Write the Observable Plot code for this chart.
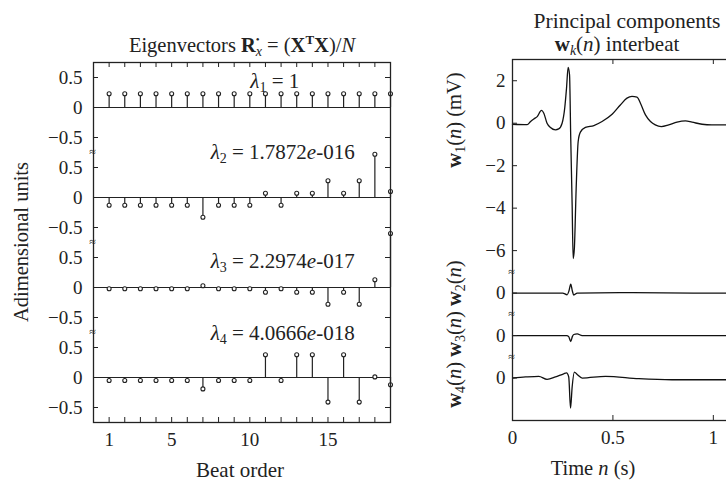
<!DOCTYPE html>
<html><head><meta charset="utf-8">
<script src="https://cdn.jsdelivr.net/npm/d3@7"></script>
<script src="https://cdn.jsdelivr.net/npm/@observablehq/plot@0.6"></script>
<style>
html,body{margin:0;padding:0;background:#fff;overflow:hidden}
#wrap{position:relative;width:726px;height:483px;overflow:hidden;background:#fff}
#wrap > svg{position:absolute;top:0}
</style></head><body><div id="wrap"></div>
<script>
// ---------- data ----------
const beats = [1,2,3,4,5,6,7,8,9,10,11,12,13,14,15,16,17,18,19];
const beatTickLabels = [1, 5, 10, 15];
const eig1 = [0.23,0.23,0.23,0.23,0.23,0.23,0.23,0.23,0.23,0.23,0.23,0.23,0.23,0.23,0.23,0.23,0.23,0.23,0.23];
const eig2 = [-0.13,-0.13,-0.13,-0.13,-0.13,-0.13,-0.33,-0.13,-0.13,-0.13,0.07,-0.13,0.07,0.07,0.28,0.07,0.28,0.72,0.10];
const eig3 = [-0.02,-0.02,-0.02,-0.02,-0.02,-0.02,0.03,-0.02,-0.02,-0.02,-0.08,-0.02,-0.08,-0.08,-0.28,-0.08,-0.28,0.13,0.90];
const eig4 = [-0.05,-0.05,-0.05,-0.05,-0.05,-0.05,-0.19,-0.05,-0.05,-0.05,0.38,-0.05,0.38,0.38,-0.41,0.38,-0.41,0.01,-0.12];
const lambdaValues = ["1", "1.7872e-016", "2.2974e-017", "4.0666e-018"];
const eigTicks = [0.5, 0, -0.5];
const eigTickLabels = ["0.5", "0", "\u22120.5"];

const timeTicks = [0, 0.5, 1];
const timeTickLabels = ["0", "0.5", "1"];
const w1Ticks = [2, 0, -2, -4, -6];
const w1TickLabels = ["2", "0", "\u22122", "\u22124", "\u22126"];
const wOtherTickLabels = ["0"];
// [time (s), amplitude]
const w1 = [[0,-0.05],[0.073,-0.07],[0.09,0.08],[0.106,0.2],[0.123,0.31],[0.144,0.6],[0.156,0.47],[0.172,0.0],[0.189,-0.2],[0.214,-0.31],[0.23,-0.27],[0.247,0.0],[0.26,0.71],[0.269,1.65],[0.277,2.63],[0.284,2.28],[0.29,-0.71],[0.297,-3.85],[0.302,-6.37],[0.308,-5.9],[0.317,-3.07],[0.327,-0.86],[0.338,-0.42],[0.363,-0.2],[0.405,-0.11],[0.446,0.08],[0.496,0.42],[0.537,0.86],[0.57,1.18],[0.595,1.26],[0.62,1.23],[0.637,0.94],[0.662,0.39],[0.687,0.08],[0.711,-0.08],[0.741,-0.16],[0.778,-0.08],[0.819,0.05],[0.861,0.11],[0.894,0.05],[0.944,-0.05],[0.993,-0.08],[1.2,-0.08]];
const w2 = [[0,0],[0.25,0.0],[0.272,-0.08],[0.281,0.1],[0.29,0.42],[0.298,0.1],[0.305,-0.09],[0.322,0],[0.6,0.02],[0.9,0],[1.2,0]];
const w3 = [[0,0],[0.27,0],[0.28,-0.05],[0.29,-0.28],[0.298,-0.05],[0.305,0.05],[0.322,0.08],[0.347,0],[1.2,0]];
const w4 = [[0,0],[0.065,0.05],[0.131,0.08],[0.172,-0.06],[0.214,0.05],[0.255,0.2],[0.269,0.24],[0.28,0.05],[0.289,-1.42],[0.297,-0.42],[0.308,0.28],[0.322,0.17],[0.347,0],[0.463,0.08],[0.629,-0.03],[0.794,-0.08],[1.2,-0.08]];

// ---------- layout ----------
const F = "'Liberation Serif', 'Times New Roman', serif";
const INK = "#222";
const TK = 5;
const wrap = document.getElementById("wrap");

// Left: stacked stem plots
const step = 1.5;
const eigs = [eig1, eig2, eig3, eig4];
const stems = eigs.flatMap((vals, k) => vals.map((v, i) => ({beat: beats[i], base: -step * k, top: -step * k + v})));
const zeroLines = eigs.map((_, k) => -step * k);
const yTickPos = [], yTickLab = [];
eigs.forEach((_, k) => eigTicks.forEach((t, j) => { yTickPos.push(t - step * k); yTickLab.push(eigTickLabels[j]); }));
const yFmt = new Map(yTickPos.map((p, i) => [p.toFixed(3), yTickLab[i]]));
const breaksL = [1, 2, 3].map(k => step / 2 - step * k);

const LW = 420, LH = 483, LmL = 93, LmR = 30, LmT = 62, LmB = 61;
const LfW = LW - LmL - LmR, LfH = LH - LmT - LmB;
const lamX = [11.6, 12.1, 12.1, 12.1];
const lamDy = [0.43, 0.75, 0.43, 0.74];

const left = Plot.plot({
  width: LW, height: LH, marginLeft: LmL, marginRight: LmR, marginTop: LmT, marginBottom: LmB,
  style: {fontFamily: F, fontSize: "19px", color: INK, background: "transparent"},
  x: {domain: [0, 19], axis: null},
  y: {domain: [-step * 3 - 0.75, 0.75], axis: null},
  marks: [
    Plot.ruleY(zeroLines, {y: d => d, stroke: INK, strokeWidth: 1.2}),
    Plot.ruleX(stems, {x: "beat", y1: "base", y2: "top", stroke: INK, strokeWidth: 1.2}),
    Plot.dot(stems, {x: "beat", y: "top", r: 2, stroke: INK, fill: "white", strokeWidth: 1.1}),
    Plot.frame({stroke: INK, strokeWidth: 1.3}),
    Plot.tickX(beats, {x: d => d, insetTop: LfH - TK, stroke: INK}),
    Plot.tickX(beats, {x: d => d, insetBottom: LfH - TK, stroke: INK}),
    Plot.tickY(yTickPos, {y: d => d, insetRight: LfW - TK, stroke: INK}),
    Plot.tickY(yTickPos, {y: d => d, insetLeft: LfW - TK, stroke: INK}),
    Plot.axisY({ticks: yTickPos, tickSize: 0, tickPadding: 11, label: null, tickFormat: d => yFmt.get((+d).toFixed(3)), fontSize: 19}),
    Plot.axisX({ticks: beatTickLabels, tickSize: 0, tickPadding: 9.5, label: null, fontSize: 19}),
    Plot.text(breaksL, {y: d => d, frameAnchor: "left", text: () => "\u2248", fontSize: 12, textAnchor: "middle", dx: -1, fill: INK}),
    Plot.text(lambdaValues, {x: (d, i) => lamX[i], y: (d, i) => zeroLines[i] + lamDy[i], text: (d, i) => `\u03bb${i + 1} = ${d}`, fontSize: 21, fill: INK})
  ]
});
left.style.left = "0px";
wrap.appendChild(left);

d3.select(left).selectAll("text")
  .filter(function() { return this.textContent.startsWith("\u03bb"); })
  .each(function() {
    const idx = +this.textContent.charAt(1) - 1;
    const m = lambdaValues[idx].split("e");
    let s = `<tspan font-style="italic">\u03bb</tspan><tspan font-size="14" dy="4">${idx + 1}</tspan><tspan dy="-4"> = ${m[0]}</tspan>`;
    if (m.length > 1) s += `<tspan font-style="italic">e</tspan>${m[1]}`;
    this.innerHTML = s;
  });

// Right: stacked principal components
const comps = [w1, w2, w3, w4];
const compOffsets = [0, -8, -10, -12];
const rTickPos = w1Ticks.concat(compOffsets.slice(1));
const rTickLab = w1TickLabels.concat(compOffsets.slice(1).map(() => wOtherTickLabels[0]));
const rFmt = new Map(rTickPos.map((p, i) => [p.toFixed(3), rTickLab[i]]));
const tFmt = new Map(timeTicks.map((p, i) => [p.toFixed(3), timeTickLabels[i]]));
const breaksR = [-7, -9, -11];

const RW = 333, RH = 483, RmL = 92, RmR = 0, RmT = 59, RmB = 63;
const RfW = RW - RmL - RmR, RfH = RH - RmT - RmB;

const right = Plot.plot({
  width: RW, height: RH, marginLeft: RmL, marginRight: RmR, marginTop: RmT, marginBottom: RmB,
  style: {fontFamily: F, fontSize: "19px", color: INK, background: "transparent"},
  x: {domain: [0, 1.2], axis: null},
  y: {domain: [-14, 3], axis: null},
  marks: [
    ...comps.map((c, k) => Plot.line(c, {x: d => d[0], y: d => d[1] + compOffsets[k], stroke: "#111", strokeWidth: 1.3, curve: "monotone-x"})),
    Plot.frame({stroke: INK, strokeWidth: 1.3}),
    Plot.tickX(timeTicks, {x: d => d, insetTop: RfH - TK, stroke: INK}),
    Plot.tickX(timeTicks, {x: d => d, insetBottom: RfH - TK, stroke: INK}),
    Plot.tickY(rTickPos, {y: d => d, insetRight: RfW - TK, stroke: INK}),
    Plot.axisY({ticks: rTickPos, tickSize: 0, tickPadding: 7, label: null, tickFormat: d => rFmt.get((+d).toFixed(3)), fontSize: 19}),
    Plot.axisX({ticks: timeTicks, tickSize: 0, tickPadding: 9.5, label: null, tickFormat: d => tFmt.get((+d).toFixed(3)), fontSize: 19}),
    Plot.text(breaksR, {y: d => d, frameAnchor: "left", text: () => "\u2248", fontSize: 12, textAnchor: "middle", dx: -1, fill: INK})
  ]
});
right.style.left = "420px";
wrap.appendChild(right);

// Titles and axis labels (rich text)
const ov = d3.create("svg").attr("width", 726).attr("height", 483)
  .style("position", "absolute").style("left", "0px").style("top", "0px")
  .attr("font-family", F).attr("font-size", 20.5).attr("fill", INK);
const addText = (x, y, html, rotate, size) => {
  const t = ov.append("text").attr("text-anchor", "middle")
    .attr("transform", `translate(${x},${y})` + (rotate ? " rotate(-90)" : ""));
  if (size) t.attr("font-size", size);
  t.html(html);
};
addText(242, 52, `Eigenvectors <tspan font-weight="bold">R</tspan><tspan font-size="11" dy="-9">\u2022</tspan><tspan font-size="14" font-style="italic" dx="-4" dy="13">x</tspan><tspan dy="-4"> = (</tspan><tspan font-weight="bold">X</tspan><tspan font-weight="bold" font-size="13" dy="-8">T</tspan><tspan font-weight="bold" dy="8">X</tspan>)/<tspan font-style="italic">N</tspan>`);
addText(627, 28, `Principal components`, false, 21.5);
addText(617, 51, `<tspan font-weight="bold">w</tspan><tspan font-size="14" font-style="italic" dy="4">k</tspan><tspan dy="-4">(</tspan><tspan font-style="italic">n</tspan>) interbeat`, false, 21);
addText(28, 242, `Adimensional units`, true);
addText(240, 477, `Beat order`, false, 21);
addText(593, 475, `Time <tspan font-style="italic">n</tspan> (s)`);
const wl = k => `<tspan font-weight="bold">w</tspan><tspan font-size="14" dy="4">${k}</tspan><tspan dy="-4">(</tspan><tspan font-style="italic">n</tspan>)`;
addText(461, 120, `${wl(1)} (mV)`, true);
addText(461, 334, `${wl(4)} ${wl(3)} ${wl(2)}`, true);
wrap.appendChild(ov.node());
</script></body></html>
